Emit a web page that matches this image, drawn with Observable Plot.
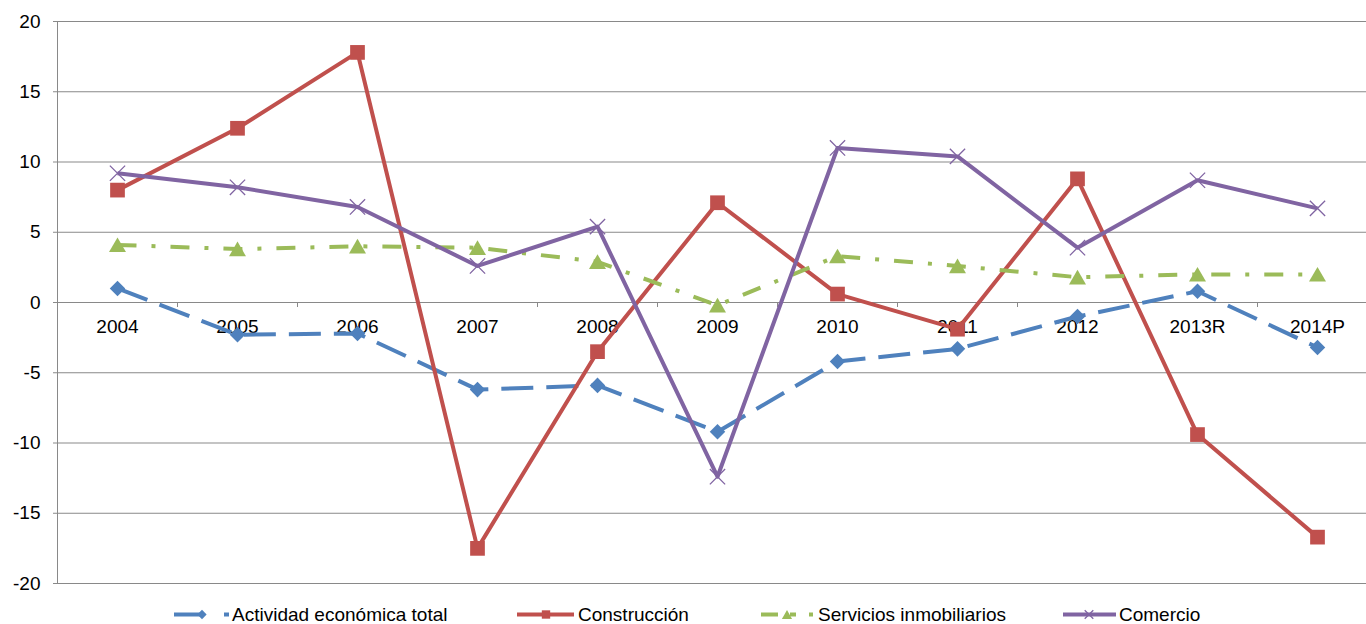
<!DOCTYPE html>
<html><head><meta charset="utf-8">
<script src="https://cdn.jsdelivr.net/npm/d3@7"></script>
<script src="https://cdn.jsdelivr.net/npm/@observablehq/plot@0.6"></script>
<style>
html,body{margin:0;padding:0;background:#fff;overflow:hidden}
#chart svg,#legend svg{display:block;max-width:none}
</style></head><body><div id="chart"></div><div id="legend"></div>
<script>
const years = ["2004","2005","2006","2007","2008","2009","2010","2011","2012","2013R","2014P"];
const actividad = [1.0, -2.3, -2.2, -6.2, -5.9, -9.2, -4.2, -3.3, -1.0, 0.8, -3.2];
const construccion = [8.0, 12.4, 17.8, -17.5, -3.5, 7.1, 0.6, -1.9, 8.8, -9.4, -16.7];
const servicios = [4.1, 3.8, 4.0, 3.9, 2.9, -0.2, 3.3, 2.6, 1.8, 2.0, 2.0];
const comercio = [9.2, 8.2, 6.8, 2.6, 5.4, -12.4, 11.0, 10.4, 3.9, 8.7, 6.7];
const yTicks = [-20, -15, -10, -5, 0, 5, 10, 15, 20];
const seriesNames = ["Actividad económica total", "Construcción", "Servicios inmobiliarios", "Comercio"];
const seriesValues = [actividad, construccion, servicios, comercio];
const colors = ["#4F81BD", "#C0504D", "#9BBB59", "#8064A2"];

const font = "'Liberation Sans', Arial, sans-serif";
const grid = "#898989";
const styles = [
  {dash: "32,13", symbol: "diamond2", r: 7, dy: 0},
  {dash: null, symbol: "square", r: 8.3, dy: 0},
  {dash: "19,15,4,15", symbol: "triangle", r: 6.3, dy: 2.3},
  {dash: null, symbol: "times", r: 7, dy: 0}
];
const idx = years.map((d, i) => i);
const boundaries = idx.slice(1).map(i => i - 0.5);

const marks = [
  Plot.ruleY(yTicks, {stroke: grid, strokeWidth: 1}),
  Plot.ruleX([-0.5], {stroke: grid, strokeWidth: 1}),
  Plot.ruleX(boundaries, {x: d => d, y1: 0, y2: 0, insetBottom: -5, stroke: grid, strokeWidth: 1}),
  Plot.axisY(yTicks, {tickSize: 4, tickPadding: 13, stroke: grid, fill: "#000", tickFormat: d => String(d), label: null}),
  Plot.text(idx, {x: i => i, y: () => 0, text: i => years[i], dy: 24, fill: "#000", lineAnchor: "middle"})
];
seriesValues.forEach((vals, k) => {
  const s = styles[k];
  marks.push(Plot.line(idx, {x: i => i, y: i => vals[i], stroke: colors[k], strokeWidth: 4,
    strokeDasharray: s.dash, strokeLinejoin: "round", strokeLinecap: "butt"}));
  if (s.symbol === "times") {
    marks.push(Plot.dot(idx, {x: i => i, y: i => vals[i], symbol: s.symbol, r: s.r, stroke: colors[k], fill: "none", strokeWidth: 1.3}));
  } else {
    marks.push(Plot.dot(idx, {x: i => i, y: i => vals[i], symbol: s.symbol, r: s.r, fill: colors[k], stroke: "none", dy: s.dy}));
  }
});

const chart = Plot.plot({
  width: 1366,
  height: 596,
  marginLeft: 57,
  marginRight: 0,
  marginTop: 21,
  marginBottom: 13,
  style: {fontFamily: font, fontSize: "19px", background: "#fff", overflow: "hidden"},
  x: {type: "linear", domain: [-0.5, 10.5], range: [57, 1377], axis: null},
  y: {domain: [-20, 20]},
  marks
});
document.getElementById("chart").appendChild(chart);

// Legend (below the SVG)
const leg = d3.select("#legend").append("svg").attr("width", 1366).attr("height", 28)
  .style("font-family", font).style("font-size", "19px");
const ly = 18.5;
const items = [
  {k: 0, x1: 174, x2: 230, mx: 202, tx: 232, dash: "28,22,5,99", sym: d3.symbolDiamond2, size: 55},
  {k: 1, x1: 517, x2: 574, mx: 546, tx: 578, dash: null, sym: d3.symbolSquare, size: 70},
  {k: 2, x1: 761, x2: 815, mx: 787, tx: 818, dash: "17,12,6,13,4,100", sym: d3.symbolTriangle, size: 45},
  {k: 3, x1: 1063, x2: 1116, mx: 1089, tx: 1119, dash: null, sym: d3.symbolTimes, size: 50}
];
items.forEach(it => {
  const c = colors[it.k];
  leg.append("line").attr("x1", it.x1).attr("x2", it.x2).attr("y1", ly).attr("y2", ly)
    .attr("stroke", c).attr("stroke-width", 4).attr("stroke-dasharray", it.dash);
  const p = leg.append("path").attr("d", d3.symbol(it.sym, it.size)())
    .attr("transform", `translate(${it.mx},${ly + (it.k === 2 ? 1.5 : 0)})`);
  if (it.k === 3) p.attr("fill", "none").attr("stroke", c).attr("stroke-width", 1.3);
  else p.attr("fill", c);
  leg.append("text").attr("x", it.tx).attr("y", ly).attr("dy", "0.35em").attr("fill", "#000")
    .text(seriesNames[it.k]);
});
</script>
</body></html>
